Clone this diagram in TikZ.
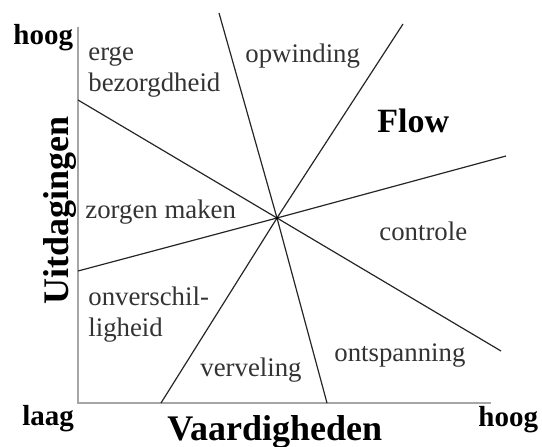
\documentclass[tikz,border=0pt]{standalone}
\usepackage{fontspec}
\setmainfont{Liberation Serif}
\begin{document}
\begin{tikzpicture}[x=0.5pt,y=0.5pt,
	zone/.style={anchor=base west,inner sep=0pt,text=black!80,font=\fontsize{13.4}{15}\selectfont},
	tick/.style={anchor=base west,inner sep=0pt,font=\fontsize{14.5}{16}\selectfont\bfseries},
	title/.style={anchor=base west,inner sep=0pt,font=\fontsize{18}{20}\selectfont\bfseries}]
	\useasboundingbox (0,0) rectangle (542,446);
	\coordinate (o) at (78,43);
	\coordinate (ytop) at (78,419);
	\coordinate (xend) at (491,43);
	\draw[gray!70,line width=1pt] (ytop) -- (o) -- (xend);
	\coordinate (c) at (277,228);
	\coordinate (a1) at (78,346);
	\coordinate (b1) at (501,95);
	\coordinate (a2) at (78,175);
	\coordinate (b2) at (506,290);
	\coordinate (a3) at (161,43);
	\coordinate (b3) at (403,422);
	\coordinate (a4) at (219,433);
	\coordinate (b4) at (327,43);
	\draw[black!85,line width=0.6pt] (a1) -- (c) -- (b1);
	\draw[black!85,line width=0.6pt] (a2) -- (c) -- (b2);
	\draw[black!85,line width=0.6pt] (a3) -- (c) -- (b3);
	\draw[black!85,line width=0.6pt] (a4) -- (c) -- (b4);
	\fill[black] (c) circle (1.5);
	% labels of the zones
	\node[zone] (erge) at (88,386) {erge};
	\node[zone] (bezorgd) at (88,355) {bezorgdheid};
	\node[zone] (opwind) at (245,384) {opwinding};
	\node[anchor=base west,inner sep=0pt,font=\fontsize{17}{19}\selectfont\bfseries] (flow) at (377,314) {Flow};
	\node[zone] (zorgen) at (85,228) {zorgen maken};
	\node[zone] (contr) at (379,206) {controle};
	\node[zone] (onversch) at (88,141) {onverschil-};
	\node[zone] (ligheid) at (88,110) {ligheid};
	\node[zone] (verveling) at (200,70) {verveling};
	\node[zone] (ontsp) at (334,85) {ontspanning};
	% axes
	\node[tick] (hoogY) at (13,401) {hoog};
	\node[tick] (laag) at (22,21) {laag};
	\node[tick] (hoogX) at (478,20) {hoog};
	\node[title] (vaard) at (167,6) {Vaardigheden};
	\node[title,rotate=90] (uitd) at (68,141) {Uitdagingen};
\end{tikzpicture}
\end{document}
